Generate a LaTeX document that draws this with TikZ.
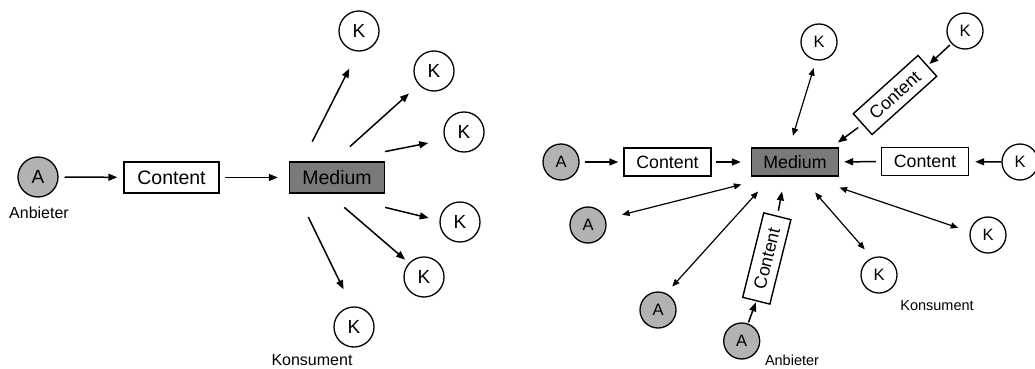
\documentclass[tikz,border=0pt]{standalone}
\usepackage{fontspec}
\setmainfont{Liberation Sans}
\usetikzlibrary{arrows.meta}
\begin{document}
\begin{tikzpicture}[x=1pt,y=-1pt,
    anbieter/.style={circle,draw,fill=black!30,line width=1.3pt,inner sep=0pt,minimum size=40pt,font=\fontsize{19}{21}\selectfont},
    konsument/.style={anbieter,fill=white},
    contentBox/.style={draw,fill=white,line width=1.4pt,minimum width=95pt,minimum height=31pt,inner sep=0pt,font=\fontsize{19.5}{22}\selectfont},
    mediumBox/.style={contentBox,fill=black!52},
    smallNode/.style={minimum size=36pt,font=\fontsize{16.5}{18}\selectfont},
    smallBox/.style={minimum width=87pt,minimum height=28pt,font=\fontsize{17.8}{20}\selectfont},
    arr/.style={-{Triangle[length=9pt,width=7pt]},line width=1.5pt},
    darr/.style={{Triangle[length=7.5pt,width=6pt]}-{Triangle[length=7.5pt,width=6pt]},line width=1.2pt},
    caption/.style={font=\fontsize{16}{18}\selectfont},
    smallCaption/.style={font=\fontsize{14.5}{16}\selectfont},
  ]
  \clip (0,0) rectangle (1035,369);

  % one Anbieter, many Konsumenten
  \node[anbieter] (aL) at (38,177) {A};
  \node[caption] (aLlab) at (39,213) {Anbieter};
  \node[contentBox] (cL) at (171.5,177.5) {Content};
  \node[mediumBox] (mL) at (337,177.5) {Medium};
  \node[konsument] (kL1) at (359,31) {K};
  \node[konsument] (kL2) at (434,71) {K};
  \node[konsument] (kL3) at (464,132) {K};
  \node[konsument] (kL4) at (460,222) {K};
  \node[konsument] (kL5) at (424,277) {K};
  \node[konsument] (kL6) at (354,327) {K};
  \node[caption] (kLlab) at (312,360) {Konsument};

  \draw[arr,shorten <=6pt,shorten >=6pt] (aL) -- (cL);
  \draw[arr,shorten <=5pt,shorten >=11pt] (cL) -- (mL);
  \draw[arr,shorten <=22pt,shorten >=19pt] (mL.155) -- (kL1.267);
  \draw[arr,shorten <=22pt,shorten >=13pt] (mL.102) -- (kL2.222);
  \draw[arr,shorten <=50pt,shorten >=17pt] (mL.94) -- (kL3.202);
  \draw[arr,shorten <=58pt,shorten >=11pt] (mL.243) -- (kL4.176);
  \draw[arr,shorten <=21pt,shorten >=5pt] (mL.242) -- (kL5.137);
  \draw[arr,shorten <=26pt,shorten >=19pt] (mL.202) -- (kL6.96);

  % everyone is Anbieter and Konsument
  \node[anbieter,smallNode] (aR1) at (561,162) {A};
  \node[contentBox,smallBox] (cR1) at (667.5,162) {Content};
  \node[mediumBox,smallBox] (mR) at (795,162) {Medium};
  \node[contentBox,smallBox] (cR2) at (925,161.5) {Content};
  \node[konsument,smallNode] (kR1) at (1020,162) {K};
  \node[konsument,smallNode] (kR2) at (819,42) {K};
  \node[konsument,smallNode] (kR3) at (965,31) {K};
  \node[contentBox,smallBox,rotate=42] (cR3) at (895,95) {Content};
  \node[anbieter,smallNode] (aR2) at (588,225) {A};
  \node[anbieter,smallNode] (aR3) at (658,310) {A};
  \node[anbieter,smallNode] (aR4) at (741.7,341) {A};
  \node[contentBox,smallBox,rotate=76] (cR4) at (766.8,258.5) {Content};
  \node[konsument,smallNode] (kR4) at (879,275) {K};
  \node[konsument,smallNode] (kR5) at (988,235) {K};
  \node[smallCaption] (aRlab) at (792,360) {Anbieter};
  \node[smallCaption] (kRlab) at (937,306) {Konsument};

  \draw[arr,shorten <=5pt,shorten >=5pt] (aR1) -- (cR1);
  \draw[arr,shorten <=4pt,shorten >=10pt] (cR1) -- (mR);
  \draw[arr,shorten <=5pt,shorten >=5pt] (cR2) -- (mR);
  \draw[arr,shorten <=0pt,shorten >=6pt] (kR1) -- (cR2);
  \draw[darr,shorten <=8pt,shorten >=12pt] (kR2.261) -- (mR.111);
  \draw[arr,shorten <=2pt,shorten >=2pt] (kR3) -- (cR3.east);
  \draw[arr,shorten <=5pt,shorten >=8pt] (cR3.west) -- (mR.22);
  \draw[darr,shorten <=17pt,shorten >=32pt] (aR2.19) -- (mR.213);
  \draw[darr,shorten <=9pt,shorten >=20pt] (aR3.64) -- (mR.212);
  \draw[arr,shorten <=1pt,shorten >=1pt] (aR4) -- (cR4.west);
  \draw[arr,shorten <=5pt,shorten >=15pt] (cR4.east) -- (mR.235);
  \draw[darr,shorten <=11pt,shorten >=21pt] (kR4.112) -- (mR.293);
  \draw[darr,shorten <=12pt,shorten >=34pt] (kR5.170) -- (mR.310);
\end{tikzpicture}
\end{document}
